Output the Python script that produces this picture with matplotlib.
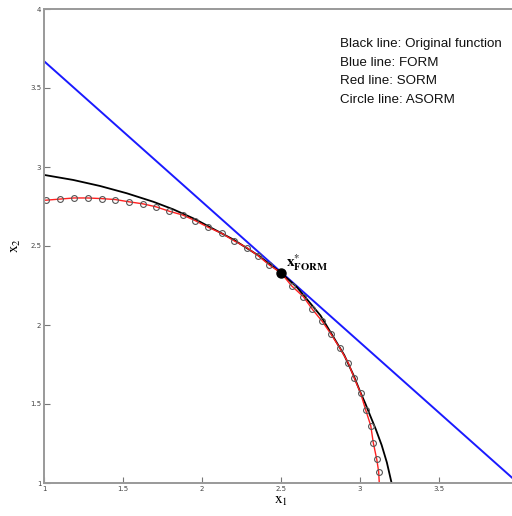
import matplotlib
matplotlib.use("Agg")
from matplotlib import pyplot as plt

plt.rcParams["mathtext.fontset"] = "stix"

# blue line: FORM (linear approximation)
form_x = [1.0, 4.0]
form_y = [3.67, 1.0]

# black line: original limit-state function
orig_x = [1.0, 1.185, 1.354, 1.523, 1.692, 1.818, 1.958, 2.04, 2.2, 2.357, 2.5,
          2.6, 2.75, 2.9, 2.96, 3.0, 3.035, 3.063, 3.1, 3.137, 3.17, 3.2]
orig_y = [2.95, 2.918, 2.88, 2.834, 2.78, 2.732, 2.669, 2.625, 2.54, 2.44, 2.33,
          2.24, 2.06, 1.81, 1.68, 1.58, 1.5, 1.43, 1.34, 1.24, 1.13, 1.0]

# circles: ASORM
asorm_x = [1.013, 1.101, 1.19, 1.277, 1.365, 1.451, 1.536, 1.625, 1.709, 1.793,
           1.878, 1.958, 2.04, 2.125, 2.203, 2.283, 2.357, 2.426, 2.568, 2.641,
           2.698, 2.761, 2.816, 2.873, 2.926, 2.964, 3.004, 3.036, 3.068, 3.084,
           3.106, 3.118]
asorm_y = [2.79, 2.797, 2.804, 2.804, 2.80, 2.794, 2.78, 2.767, 2.748, 2.72,
           2.696, 2.66, 2.618, 2.58, 2.533, 2.49, 2.437, 2.38, 2.247, 2.18,
           2.10, 2.023, 1.943, 1.853, 1.76, 1.663, 1.568, 1.462, 1.363, 1.255,
           1.15, 1.072]

# red line: SORM
sorm_x = [1.0] + asorm_x[:18] + [2.5] + asorm_x[18:] + [3.122]
sorm_y = [2.79] + asorm_y[:18] + [2.33] + asorm_y[18:] + [1.0]

design_pt = (2.5, 2.33)

ticks = [1, 1.5, 2, 2.5, 3, 3.5, 4]
tick_labels = ["1", "1.5", "2", "2.5", "3", "3.5", "4"]

legend_lines = ["Black line: Original function", "Blue line: FORM",
                "Red line: SORM", "Circle line: ASORM"]

fig = plt.figure(figsize=(5.12, 5.16), dpi=100)
ax = fig.add_axes([44 / 512, 33 / 516, 474 / 512, 474 / 516])

ax.plot(form_x, form_y, color="#1a1aff", lw=1.4)
ax.plot(orig_x, orig_y, color="black", lw=1.3)
ax.plot(sorm_x, sorm_y, color="#ff2020", lw=1.0)
ax.plot(asorm_x, asorm_y, ls="none", marker="o", ms=4.2, mfc="none",
        mec="#555555", mew=0.8)
ax.plot(*design_pt, marker="o", color="black", ms=6.5)

ax.text(2.53, 2.37, r"$\mathbf{x}^{*}_{\mathbf{FORM}}$", fontsize=11)

for i, s in enumerate(legend_lines):
    fig.text(340 / 512, 1 - (44 + i * 18.6) / 516, s, fontsize=9.6,
             family="Liberation Sans", va="center", color="#111111")

ax.set_xlim(1, 4)
ax.set_ylim(1, 4)
# the "4" on the x axis falls outside the picture
ax.set_xticks(ticks[:-1])
ax.set_xticklabels(tick_labels[:-1])
ax.set_yticks(ticks)
ax.set_yticklabels(tick_labels)
ax.tick_params(direction="in", length=4, width=0.8, color="#777777",
               labelsize=5, labelcolor="#444444", pad=2)
for sp in ax.spines.values():
    sp.set_color("#999999")
    sp.set_linewidth(1.4)

ax.set_xlabel(r"$\mathrm{x}_1$", fontsize=11, labelpad=1)
ax.set_ylabel(r"$\mathrm{x}_2$", fontsize=11, labelpad=5)

fig.savefig("out.png", dpi=100)
